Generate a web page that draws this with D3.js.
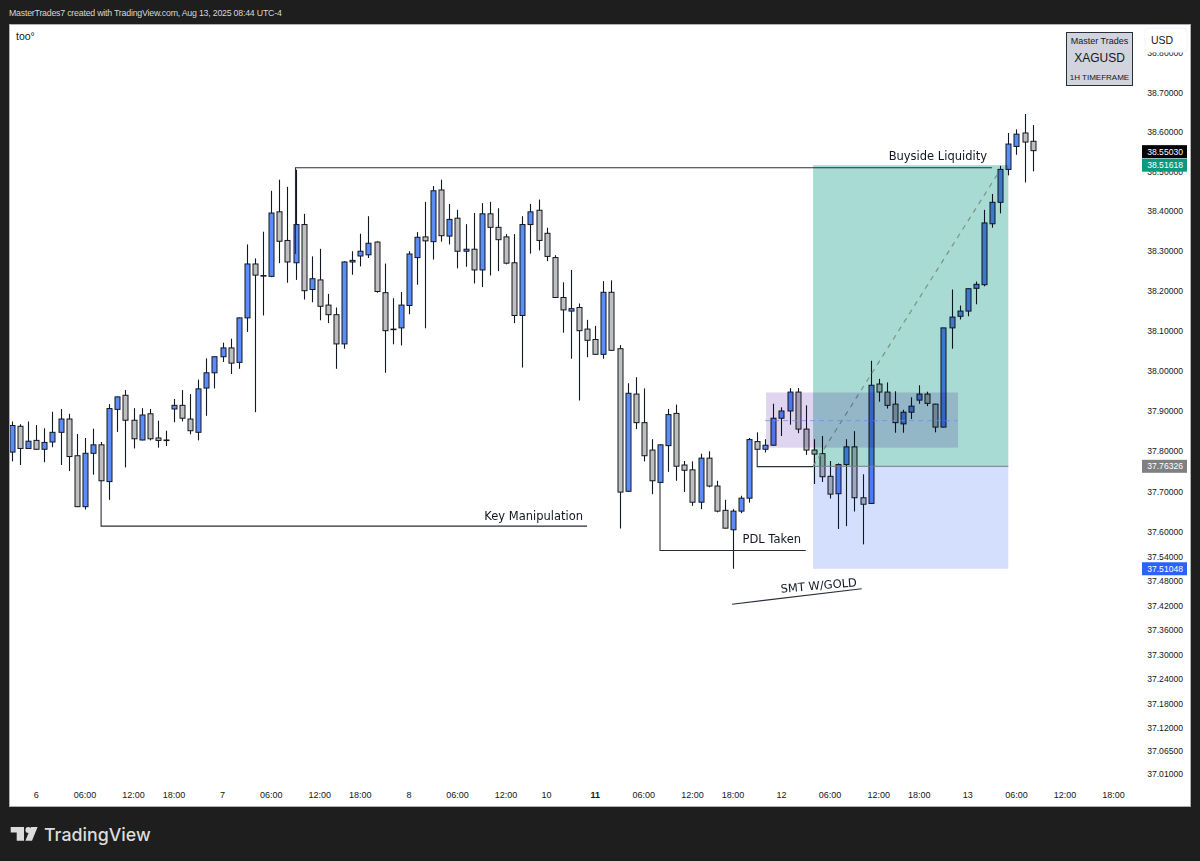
<!DOCTYPE html>
<html><head><meta charset="utf-8">
<script src="https://cdn.jsdelivr.net/npm/d3@7/dist/d3.min.js"></script>
<style>html,body{margin:0;padding:0;background:#1e1e1e;overflow:hidden}svg{display:block}text{font-family:"Liberation Sans",sans-serif}</style>
</head><body><svg id="c" width="1200" height="861"></svg>
<script>
const opens=[37.796,37.860,37.805,37.825,37.803,37.821,37.845,37.878,37.787,37.661,
37.793,37.814,37.723,37.902,37.937,37.875,37.826,37.891,37.831,37.826,
37.903,37.912,37.878,37.845,37.955,37.993,38.033,38.055,38.019,38.130,
38.265,38.236,38.234,38.396,38.324,38.268,38.364,38.201,38.225,38.162,
38.138,38.065,38.270,38.285,38.288,38.320,38.193,38.102,38.105,38.161,
38.281,38.333,38.321,38.451,38.335,38.380,38.297,38.302,38.250,38.391,
38.357,38.333,38.268,38.136,38.364,38.400,38.342,38.281,38.181,38.147,
38.156,38.102,38.076,38.039,38.194,38.053,37.699,37.940,37.869,37.801,
37.721,37.812,37.892,37.764,37.752,37.672,37.781,37.712,37.652,37.604,
37.650,37.682,37.822,37.803,37.813,37.880,37.898,37.945,37.853,37.801,
37.792,37.736,37.693,37.765,37.809,37.683,37.669,37.965,37.945,37.915,
37.866,37.895,37.925,37.940,37.915,37.858,38.105,38.134,38.147,38.204,
38.213,38.366,38.420,38.503,38.561,38.595,38.574];
const highs=[37.872,37.865,37.872,37.863,37.855,37.896,37.903,37.891,37.841,37.831,
37.854,37.821,37.915,37.934,37.950,37.905,37.905,37.903,37.874,37.849,
37.928,37.950,37.940,37.976,38.029,38.033,38.068,38.078,38.131,38.314,
38.279,38.346,38.449,38.477,38.459,38.502,38.391,38.284,38.303,38.190,
38.156,38.272,38.297,38.341,38.385,38.322,38.266,38.179,38.195,38.297,
38.345,38.421,38.461,38.477,38.416,38.401,38.365,38.393,38.418,38.421,
38.405,38.340,38.340,38.385,38.416,38.427,38.356,38.287,38.219,38.250,
38.166,38.125,38.110,38.222,38.224,38.062,37.967,37.982,37.954,37.828,
37.815,37.903,37.914,37.774,37.773,37.792,37.798,37.725,37.678,37.655,
37.688,37.831,37.845,37.828,37.916,37.907,37.955,37.955,37.912,37.828,
37.836,37.774,37.768,37.828,37.848,37.741,38.023,37.978,37.969,37.947,
37.901,37.932,37.962,37.946,37.916,38.105,38.201,38.161,38.203,38.221,
38.401,38.441,38.512,38.595,38.604,38.643,38.615];
const lows=[37.773,37.764,37.804,37.802,37.771,37.808,37.764,37.749,37.660,37.654,
37.740,37.724,37.678,37.846,37.758,37.805,37.825,37.825,37.807,37.811,
37.870,37.872,37.840,37.825,37.886,37.954,38.020,37.990,38.003,38.095,
37.895,38.136,38.232,38.267,38.218,38.225,38.176,38.169,38.124,38.117,
38.003,38.053,38.238,38.259,38.280,38.193,37.993,38.064,38.061,38.139,
38.213,38.104,38.276,38.321,38.314,38.254,38.258,38.216,38.207,38.236,
38.247,38.264,38.117,38.006,38.291,38.299,38.272,38.180,38.093,38.028,
37.924,38.032,38.038,38.028,38.048,37.607,37.698,37.853,37.773,37.692,
37.720,37.747,37.725,37.697,37.663,37.655,37.709,37.647,37.607,37.508,
37.645,37.671,37.802,37.795,37.812,37.836,37.864,37.843,37.789,37.717,
37.722,37.681,37.606,37.613,37.649,37.568,37.668,37.921,37.904,37.844,
37.844,37.878,37.916,37.910,37.845,37.857,38.053,38.126,38.134,38.164,
38.209,38.356,38.392,38.488,38.540,38.470,38.498];
const closes=[37.862,37.805,37.823,37.803,37.820,37.845,37.878,37.785,37.661,37.793,
37.814,37.725,37.904,37.933,37.875,37.829,37.888,37.829,37.825,37.825,
37.912,37.880,37.849,37.953,37.993,38.033,38.055,38.017,38.130,38.265,
38.237,38.235,38.393,38.322,38.270,38.364,38.198,38.228,38.159,38.138,
38.065,38.270,38.274,38.297,38.317,38.196,38.098,38.101,38.162,38.290,
38.332,38.323,38.449,38.336,38.377,38.297,38.302,38.250,38.391,38.357,
38.326,38.267,38.136,38.364,38.396,38.324,38.284,38.181,38.150,38.153,
38.098,38.074,38.039,38.194,38.049,37.697,37.942,37.869,37.787,37.725,
37.814,37.889,37.761,37.751,37.672,37.781,37.712,37.650,37.608,37.650,
37.682,37.827,37.803,37.813,37.880,37.898,37.945,37.853,37.801,37.791,
37.735,37.692,37.765,37.809,37.683,37.667,37.962,37.945,37.912,37.869,
37.895,37.910,37.940,37.917,37.858,38.105,38.132,38.147,38.203,38.214,
38.368,38.420,38.503,38.567,38.592,38.572,38.5503];

const priceTicks=[38.8,38.7,38.6,38.5,38.4,38.3,38.2,38.1,38.0,37.9,37.8,37.7,37.6,37.54,37.48,37.42,37.36,37.30,37.24,37.18,37.12,37.065,37.01];
const timeTickBars=[3,9,15,20,26,32,38,43,49,55,61,66,72,78,84,89,95,101,107,112,118,124,130,136];
const timeTickLabels=["6","06:00","12:00","18:00","7","06:00","12:00","18:00","8","06:00","12:00","10","11","06:00","12:00","18:00","12","06:00","12:00","18:00","13","06:00","12:00","18:00"];

const lastPrice=38.5503,targetPrice=38.51618,entryPrice=37.76326,stopPrice=37.51048;
const positionBars=[98.9,123];
const boxBars=[93.1,116.8],boxPrices=[37.944,37.807],boxMid=37.874;
// polyline annotations: [bar, price] vertices
const levelLines=[
 [[35,38.29],[35,38.507],[121,38.507]],
 [[11,37.725],[11,37.613],[71,37.613]],
 [[80,37.72],[80,37.553],[98,37.553]],
 [[92,37.802],[92,37.760],[98.9,37.760]],
 [[88.9,37.421],[104.9,37.459]]
];
const noteTexts=["Buyside Liquidity","Key Manipulation","PDL Taken","SMT W/GOLD"];
const noteBars=[114.3,64.4,93.8,99.6];
const notePrices=[38.537,37.638,37.581,37.467];
const noteAngles=[0,0,0,-5];

const svg=d3.select("#c");
const BG="#1e1e1e",DARK="#131722",BLUE="#5a8df8",GRAY="#bfbfbf";
const x=d3.scaleLinear().domain([0,126]).range([12,1032.6]);
const y=d3.scaleLog().domain([37.6,38.6]).range([531.4,131]);
const axisNudge=1; // price-scale labels and position tool sit one pixel below the candle grid

svg.append("rect").attr("width",1200).attr("height",861).attr("fill",BG);
svg.append("rect").attr("x",9.5).attr("y",24.5).attr("width",1181).attr("height",782).attr("fill","#fff").attr("stroke","#b0b0b0");
svg.append("clipPath").attr("id","p").append("rect").attr("x",10).attr("y",25).attr("width",1130).attr("height",781);

const g=svg.append("g").attr("clip-path","url(#p)").style("isolation","isolate");
const bars=d3.range(opens.length);
g.selectAll("line.w").data(bars).join("line").attr("class","w")
 .attr("x1",i=>Math.round(x(i))+.5).attr("x2",i=>Math.round(x(i))+.5)
 .attr("y1",i=>y(highs[i])).attr("y2",i=>y(lows[i])).attr("stroke",DARK).attr("stroke-width",1.1);
g.selectAll("rect.b").data(bars).join("rect").attr("class","b")
 .attr("x",i=>Math.round(x(i))-2).attr("width",5)
 .attr("y",i=>y(Math.max(opens[i],closes[i])))
 .attr("height",i=>Math.max(.6,Math.abs(y(opens[i])-y(closes[i]))))
 .attr("fill",i=>closes[i]>opens[i]?BLUE:GRAY).attr("stroke",DARK).attr("stroke-width",1);

// position tool
const px=positionBars.map(x);
const yT=y(targetPrice)+axisNudge,yE=y(entryPrice)+axisNudge,yS=y(stopPrice)+axisNudge;
g.append("rect").attr("x",px[0]).attr("width",px[1]-px[0]).attr("y",yT).attr("height",yE-yT).attr("fill","#a8dbd3").style("mix-blend-mode","multiply");
g.append("rect").attr("x",px[0]).attr("width",px[1]-px[0]).attr("y",yE).attr("height",yS-yE).attr("fill","#d3dffd").style("mix-blend-mode","multiply");
g.append("line").attr("x1",px[0]).attr("x2",px[1]).attr("y1",yE).attr("y2",yE).attr("stroke","#787b86").attr("stroke-width",1);
g.append("line").attr("x1",px[0]).attr("x2",x(121.9)).attr("y1",yE).attr("y2",yT+6).attr("stroke","#7f8f8c").attr("stroke-width",1.2).attr("stroke-dasharray","5 5");
// purple box
const bx=boxBars.map(x);
g.append("rect").attr("x",bx[0]).attr("width",bx[1]-bx[0]).attr("y",y(boxPrices[0])).attr("height",y(boxPrices[1])-y(boxPrices[0])).attr("fill","#dfd5f0").style("mix-blend-mode","multiply");
g.append("line").attr("x1",bx[0]-1).attr("x2",bx[1]-1).attr("y1",y(boxMid)).attr("y2",y(boxMid)).attr("stroke","#6a8ff0").attr("stroke-width",1).attr("stroke-dasharray","5 4").attr("stroke-opacity",.75);

const ln=d3.line().x(d=>x(d[0])).y(d=>y(d[1]));
g.selectAll("path.l").data(levelLines).join("path").attr("class","l").attr("d",ln).attr("fill","none").attr("stroke","#2a2e39").attr("stroke-width",1.1);
g.selectAll("text.n").data(noteTexts).join("text").attr("class","n")
 .attr("transform",(d,i)=>`translate(${x(noteBars[i])},${y(notePrices[i])}) rotate(${noteAngles[i]})`)
 .attr("text-anchor","middle").attr("dominant-baseline","central")
 .style("font-family",'"DejaVu Sans",sans-serif').style("font-size","11.5px").attr("fill",DARK).text(d=>d);

// price axis
svg.selectAll("text.p").data(priceTicks).join("text").attr("class","p")
 .attr("x",1183).attr("y",d=>y(d)+axisNudge).attr("text-anchor","end").attr("dominant-baseline","central")
 .style("font-size","8.6px").attr("fill",DARK).text(d=>d.toFixed(5));
// time axis
svg.selectAll("text.t").data(timeTickBars).join("text").attr("class","t")
 .attr("x",d=>x(d)).attr("y",795).attr("text-anchor","middle").attr("dominant-baseline","central")
 .style("font-size","9px").style("font-weight",(d,i)=>timeTickLabels[i]==="11"?"700":"400").attr("fill",DARK).text((d,i)=>timeTickLabels[i]);

// price tags
const tags=[[lastPrice,"#000000"],[targetPrice,"#089981"],[entryPrice,"#808080"],[stopPrice,"#2962ff"]];
const tg=svg.selectAll("g.tag").data(tags).join("g").attr("class","tag");
tg.append("rect").attr("x",1142).attr("width",45).attr("height",13).attr("y",d=>y(d[0])+axisNudge-6.5).attr("fill",d=>d[1]);
tg.append("text").attr("x",1183).attr("y",d=>y(d[0])+axisNudge).attr("text-anchor","end").attr("dominant-baseline","central")
 .style("font-size","8.6px").attr("fill","#fff").text(d=>d[0].toFixed(5));

// USD button
svg.append("rect").attr("x",1145).attr("y",28).attr("width",42).attr("height",24).attr("rx",4).attr("fill","#fff").attr("stroke","#f0f3fa");
svg.append("text").attr("x",1162).attr("y",40).attr("text-anchor","middle").attr("dominant-baseline","central").style("font-size","10.5px").attr("fill",DARK).text("USD");

// info box
svg.append("rect").attr("x",1066.5).attr("y",32.5).attr("width",66).attr("height",53).attr("fill","#d1d4dc").attr("stroke","#2a2e39");
[["Master Trades",41,"9px"],["XAGUSD",58,"12px"],["1H TIMEFRAME",77,"8px"]].forEach(t=>{
 svg.append("text").attr("x",1099.5).attr("y",t[1]).attr("text-anchor","middle").attr("dominant-baseline","central")
  .style("font-size",t[2]).attr("fill",DARK).text(t[0]);});

svg.append("text").attr("x",16).attr("y",36).attr("dominant-baseline","central").style("font-size","10.5px").attr("fill",DARK).text("too°");
svg.append("text").attr("x",9).attr("y",13).attr("dominant-baseline","central").style("font-size","8.8px").style("letter-spacing","-0.22px").attr("fill","#d6d6d6").text("MasterTrades7 created with TradingView.com, Aug 13, 2025 08:44 UTC-4");

// logo
const L=svg.append("g").attr("fill","#dcdcdc");
L.append("path").attr("d","M10.7 827H24V840.7H16.7V832.4H10.7Z");
L.append("circle").attr("cx",28.3).attr("cy",830).attr("r",2.9);
L.append("path").attr("d","M31 827H37.6L32 840.7H25.4Z");
svg.append("text").attr("x",44).attr("y",840.7).style("font-family","Inter,Roboto,sans-serif").style("font-size","17.8px").style("font-weight","500").attr("fill","#dcdcdc").text("TradingView");
</script></body></html>
